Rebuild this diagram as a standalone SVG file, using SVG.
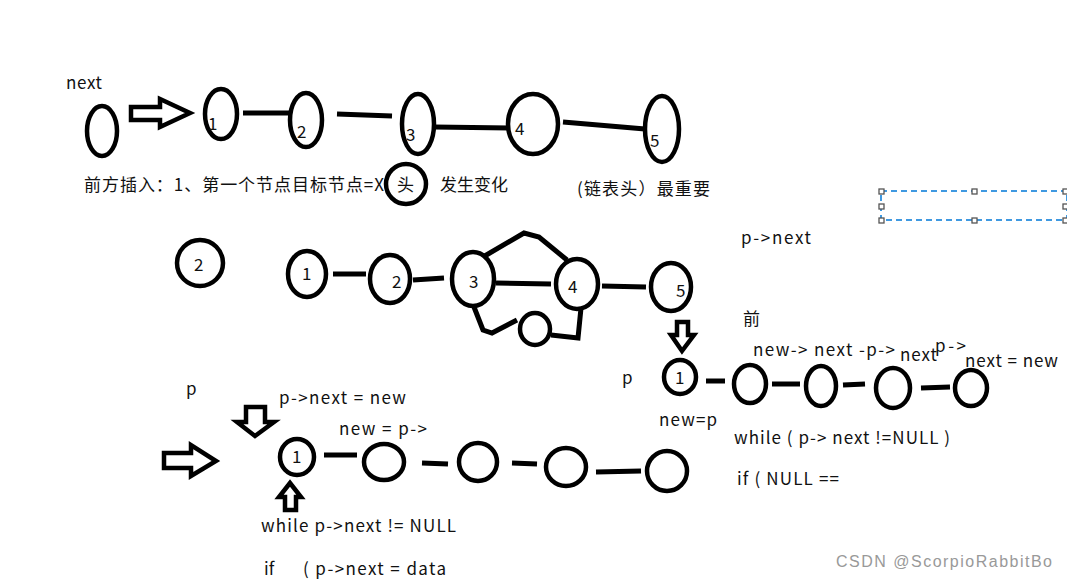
<svg xmlns="http://www.w3.org/2000/svg" width="1067" height="582" viewBox="0 0 1067 582">
<style>
.n{fill:none;stroke:#000;stroke-width:4.5}
.c{fill:none;stroke:#000;stroke-width:5;stroke-linecap:butt}
.a{fill:#fff;stroke:#000;stroke-width:4.5;stroke-linejoin:miter}
text{font-family:"Noto Sans CJK SC","Liberation Sans",sans-serif;font-size:17px;fill:#111}
.h{fill:#fff;stroke:#555;stroke-width:1.3}
</style>
<rect width="1067" height="582" fill="#fff"/>

<g id="connectors">
<line class="c" x1="243" y1="113" x2="292" y2="113"/>
<line class="c" x1="337" y1="114" x2="392" y2="116"/>
<line class="c" x1="434" y1="127" x2="510" y2="128"/>
<line class="c" x1="563" y1="122" x2="645" y2="129"/>
<line class="c" x1="333" y1="274" x2="366" y2="274"/>
<line class="c" x1="413" y1="280" x2="444" y2="278"/>
<line class="c" x1="496" y1="283" x2="551" y2="284"/>
<line class="c" x1="602" y1="286" x2="646" y2="287"/>
<polyline class="c" points="483,257 524,233 539,237 567,260"/>
<polyline class="c" points="474,307 483,330 492,333 517,320"/>
<polyline class="c" points="551,335 578,338 581,308"/>
<line class="c" x1="706" y1="381" x2="725" y2="381"/>
<line class="c" x1="772" y1="384" x2="800" y2="384"/>
<line class="c" x1="843" y1="385" x2="865" y2="384"/>
<line class="c" x1="921" y1="388" x2="950" y2="387"/>
<line class="c" x1="324" y1="455" x2="357" y2="455"/>
<line class="c" x1="422" y1="463" x2="448" y2="464"/>
<line class="c" x1="512" y1="463" x2="537" y2="464"/>
<line class="c" x1="596" y1="472" x2="641" y2="471"/>
<polygon class="a" points="131,107 160,107 160,99 190,113 160,127 160,120 131,120"/>
<polygon class="a" points="677,322 688,322 688,335 694,335 682,351 671,335 677,335"/>
<polygon class="a" points="246,407 265,407 265,422 274,422 255,436 237,422 246,422"/>
<polygon class="a" points="164,453 191,453 191,445 216,461 191,476 191,468 164,468"/>
<polygon class="a" points="285,510 296,510 296,497 301,497 290,483 279,497 285,497"/>
</g>

<g id="top-row">
<text x="66" y="89" textLength="36" lengthAdjust="spacing">next</text>
<g id="t0"><ellipse class="n" cx="102" cy="131" rx="15" ry="25"/></g>
<g id="t1"><ellipse class="n" cx="221" cy="114" rx="16" ry="25"/><text x="208" y="130">1</text></g>
<g id="t2"><ellipse class="n" cx="306" cy="120" rx="16" ry="27"/><text x="297" y="138">2</text></g>
<g id="t3"><ellipse class="n" cx="418" cy="124" rx="16" ry="30"/><text x="406" y="141">3</text></g>
<g id="t4"><ellipse class="n" cx="533" cy="124" rx="25" ry="30"/><text x="515" y="135">4</text></g>
<g id="t5"><ellipse class="n" cx="662" cy="129" rx="17" ry="33"/><text x="650" y="147">5</text></g>
</g>

<g id="caption">
<text x="84" y="191" textLength="300" lengthAdjust="spacing">前方插入：1、第一个节点目标节点=X</text>
<ellipse cx="406" cy="184" rx="20" ry="20" fill="#fff" stroke="#000" stroke-width="4.5"/>
<text x="397" y="191">头</text>
<text x="440" y="191">发生变化</text>
<text x="577" y="195" textLength="133" lengthAdjust="spacing">(链表头）最重要</text>
</g>

<g id="selection">
<rect x="881" y="191" width="186" height="29" fill="none" stroke="#0078d7" stroke-width="1.5" stroke-dasharray="6,4"/>
<rect class="h" x="879" y="189" width="5" height="5"/>
<rect class="h" x="972" y="189" width="5" height="5"/>
<rect class="h" x="1063" y="189" width="5" height="5"/>
<rect class="h" x="879" y="204" width="5" height="5"/>
<rect class="h" x="1063" y="204" width="5" height="5"/>
<rect class="h" x="879" y="218" width="5" height="5"/>
<rect class="h" x="972" y="218" width="5" height="5"/>
<rect class="h" x="1063" y="218" width="5" height="5"/>
</g>

<text x="741" y="244" textLength="70" lengthAdjust="spacing">p-&gt;next</text>

<g id="middle-row">
<g id="m-lone"><ellipse class="n" cx="200" cy="263" rx="23" ry="23"/><text x="194" y="271">2</text></g>
<g id="m1"><ellipse class="n" cx="307" cy="274" rx="19" ry="23"/><text x="302" y="280">1</text></g>
<g id="m2"><ellipse class="n" cx="390" cy="279" rx="20" ry="24"/><text x="392" y="288">2</text></g>
<g id="m3"><ellipse class="n" cx="473" cy="279" rx="21" ry="27"/><text x="469" y="288">3</text></g>
<g id="m4"><ellipse class="n" cx="577" cy="284" rx="21" ry="25"/><text x="568" y="293">4</text></g>
<g id="m5"><ellipse class="n" cx="671" cy="287" rx="20" ry="24"/><text x="676" y="297">5</text></g>
<g id="m-new"><ellipse class="n" cx="535" cy="329" rx="15" ry="16"/></g>
</g>

<g id="right-row">
<text x="743" y="325">前</text>
<text x="753" y="356" textLength="142" lengthAdjust="spacing">new-&gt; next -p-&gt;</text>
<text x="900" y="361" textLength="37" lengthAdjust="spacing">next</text>
<text x="935" y="352" textLength="31" lengthAdjust="spacing">p-&gt;</text>
<text x="965" y="367" textLength="93" lengthAdjust="spacing">next = new</text>
<text x="622" y="384">p</text>
<g id="r1"><ellipse class="n" cx="680" cy="377" rx="16" ry="17"/><text x="675" y="384">1</text></g>
<g id="r2"><ellipse class="n" cx="750" cy="384" rx="16" ry="19"/></g>
<g id="r3"><ellipse class="n" cx="821" cy="386" rx="15" ry="20"/></g>
<g id="r4"><ellipse class="n" cx="893" cy="388" rx="17" ry="20"/></g>
<g id="r5"><ellipse class="n" cx="971" cy="388" rx="16" ry="18"/></g>
<text x="659" y="426" textLength="58" lengthAdjust="spacing">new=p</text>
<text x="734" y="444" textLength="216" lengthAdjust="spacing">while ( p-&gt; next !=NULL )</text>
<text x="737" y="485" textLength="102" lengthAdjust="spacing">if ( NULL ==</text>
</g>

<g id="bottom-row">
<text x="186" y="395">p</text>
<text x="279" y="404" textLength="127" lengthAdjust="spacing">p-&gt;next = new</text>
<text x="339" y="435" textLength="88" lengthAdjust="spacing">new = p-&gt;</text>
<g id="b1"><ellipse class="n" cx="297" cy="457" rx="17" ry="18"/><text x="292" y="463">1</text></g>
<g id="b2"><ellipse class="n" cx="384" cy="462" rx="20" ry="18"/></g>
<g id="b3"><ellipse class="n" cx="478" cy="462" rx="19" ry="19"/></g>
<g id="b4"><ellipse class="n" cx="566" cy="467" rx="20" ry="19"/></g>
<g id="b5"><ellipse class="n" cx="667" cy="471" rx="20" ry="20"/></g>
<text x="261" y="532" textLength="195" lengthAdjust="spacing">while p-&gt;next != NULL</text>
<text x="264" y="575">if</text>
<text x="303" y="575" textLength="143" lengthAdjust="spacing">( p-&gt;next = data</text>
</g>

<text x="836" y="567" textLength="216" lengthAdjust="spacing" style="fill:#999;font-size:16px;font-family:'Liberation Sans',sans-serif">CSDN @ScorpioRabbitBo</text>
</svg>
